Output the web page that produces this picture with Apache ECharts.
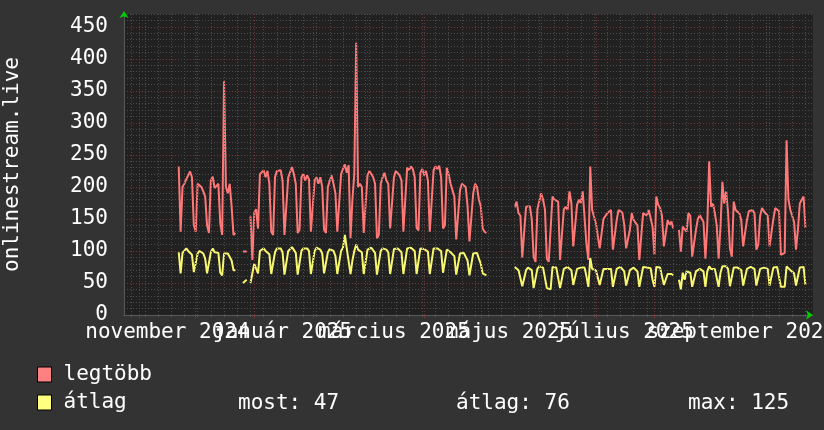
<!DOCTYPE html>
<html><head><meta charset="utf-8">
<script src="https://cdn.jsdelivr.net/npm/echarts@6/dist/echarts.min.js"></script>
<style>html,body{margin:0;padding:0;background:#333333;}#c{width:824px;height:430px;}</style>
</head><body><div id="c"></div>
<script>
// ---- time range of the graph ----
const rangeStart = '2024-10-24';
const rangeEnd = '2025-10-24';

// ---- data segments (daily values), each with its first day ----
const segStarts = ['2024-11-22', '2024-12-26', '2024-12-30', '2025-05-19', '2025-08-14'];

const maxSeg1 = [232,130,200,205,212,218,224,215,140,130,205,204,200,193,185,140,128,210,216,198,200,205,143,125,365,200,190,205,170,125,128];
const avgSeg1 = [98,65,97,100,104,100,97,94,67,64,96,100,98,96,88,65,62,98,104,98,96,97,66,62,96,98,96,96,85,70,70];

const maxSeg2 = [99,99,99];
const avgSeg2 = [50,52,55];

const maxSeg3 = [154,86,160,165,135,220,222,226,215,225,
  205,130,125,215,225,222,226,210,125,122,
  215,218,231,220,205,128,133,215,220,210,
  218,212,130,128,210,215,205,215,200,133,
  128,200,210,218,205,190,130,127,220,228,
  235,222,234,120,180,220,425,200,205,200,
  128,125,218,225,220,215,205,120,125,205,
  215,222,210,205,135,132,215,225,222,218,
  210,130,128,230,226,232,228,215,136,132,
  222,228,218,225,210,130,128,226,232,228,
  233,215,135,140,230,220,205,195,185,118,
  120,195,205,208,200,170,115,112,190,205,
  200,180,170,135,130,128];
const avgSeg3 = [50,47,80,78,65,100,102,104,100,102,
  95,64,62,98,104,102,104,98,63,62,
  100,102,106,104,97,63,65,100,104,102,
  104,100,64,62,100,105,103,102,96,65,
  62,98,103,104,100,92,64,62,100,105,
  125,104,106,64,85,100,110,102,100,98,
  64,62,102,104,105,102,97,63,62,100,
  104,105,102,98,64,63,103,105,104,104,
  98,64,62,104,106,105,106,100,64,63,
  104,106,103,105,99,64,62,104,106,104,
  106,100,66,64,102,100,98,96,92,63,
  62,96,98,97,95,85,62,62,96,98,
  97,88,80,65,64,62];

const maxSeg4 = [168,177,159,155,90,88,169,172,170,150,
  91,83,165,167,190,180,165,88,83,81,
  185,180,183,177,86,88,165,169,164,193,
  175,107,110,172,180,175,193,190,110,86,
  232,164,167,143,143,104,104,150,150,159,
  156,164,102,104,148,164,164,160,141,104,
  102,133,159,148,150,140,86,88,159,162,
  155,164,164,138,94,185,172,167,155,107,
  104,148,141,146,135];
const avgSeg4 = [75,74,70,68,45,44,70,74,72,70,
  42,42,72,76,78,74,72,42,40,40,
  75,76,74,75,42,43,72,74,75,76,
  70,47,46,72,75,74,76,74,60,44,
  89,72,70,70,68,47,46,72,74,72,
  74,72,44,44,72,74,75,72,68,46,
  46,70,72,74,72,68,44,44,75,75,
  74,75,73,55,44,75,76,74,72,47,
  46,64,64,64,62];

const maxSeg5 = [133,99,138,140,130,159,155,91,88,133,
  150,156,159,145,88,140,240,169,174,159,
  140,88,138,208,174,193,160,104,91,177,
  164,162,159,148,107,107,148,162,159,164,
  159,102,110,155,167,162,164,155,107,110,
  150,167,169,162,94,91,97,273,180,164,
  164,145,102,133,174,180,185,136];
const avgSeg5 = [55,40,66,55,68,68,66,44,44,68,
  70,72,70,68,44,68,76,72,74,72,
  70,44,66,76,75,76,72,45,44,74,
  72,74,72,70,46,46,72,74,75,74,
  72,46,48,72,75,74,75,72,46,47,
  74,76,75,72,44,42,44,76,74,70,
  72,65,46,60,74,76,75,47];

// ---- names, ticks, texts ----
const seriesNames = ['legtöbb', 'átlag'];
const yTickValues = [0, 50, 100, 150, 200, 250, 300, 350, 400, 450];
const xLabelDates = ['2024-11-16', '2025-01-16', '2025-03-16', '2025-05-16', '2025-07-16', '2025-09-16'];
const xLabelTexts = ['november 2024', 'január 2025', 'március 2025', 'május 2025', 'július 2025', 'szeptember 2025'];
const statTexts = ['most: 47', 'átlag: 76', 'max: 125'];
const axisTitle = 'onlinestream.live';

// ---- build ----
const DAY = 86400000;
const FONT = 'DejaVu Sans Mono';
const t0 = Date.parse(rangeStart), t1 = Date.parse(rangeEnd);
const maxSegs = [maxSeg1, maxSeg2, maxSeg3, maxSeg4, maxSeg5];
const avgSegs = [avgSeg1, avgSeg2, avgSeg3, avgSeg4, avgSeg5];
function build(segs) {
  const out = [];
  segs.forEach((seg, s) => {
    const st = Date.parse(segStarts[s]);
    seg.forEach((v, i) => out.push([st + i * DAY, v]));
    out.push([st + seg.length * DAY, null]);
  });
  return out;
}
const monthStarts = [];
{ const d = new Date(t0); let y = d.getUTCFullYear(), m = d.getUTCMonth() + 1;
  while (true) { const t = Date.UTC(y, m, 1); if (t > t1) break; monthStarts.push(t); m++; if (m > 11) { m = 0; y++; } } }
const mondays = [];
{ let t = t0; while (new Date(t).getUTCDay() !== 1) t += DAY; for (; t <= t1; t += 7 * DAY) mondays.push(t); }
const labelTs = xLabelDates.map(d => Date.parse(d));
const labelTsA = labelTs.filter((_, i) => i % 2 === 0);
const labelTsB = labelTs.filter((_, i) => i % 2 === 1);
const fmt = v => { const i = labelTs.indexOf(v); return i >= 0 ? xLabelTexts[i] : ''; };

const MAJOR = '#723636', MINOR = '#4c4c4c';
function gridLines(values, color) {
  return {
    type: 'line', data: [], silent: true, z: 1, xAxisIndex: 0, yAxisIndex: 0,
    markLine: {silent: true, symbol: 'none', animation: false, label: {show: false},
      lineStyle: {color: color, type: [1, 2], width: 1}, emphasis: {disabled: true},
      data: values.map(v => ({xAxis: v}))}
  };
}
const labelStyle = {color: '#ffffff', fontFamily: FONT, fontSize: 21, margin: 7,
  showMinLabel: true, showMaxLabel: true, hideOverlap: false, formatter: fmt};
const chart = echarts.init(document.getElementById('c'), null, {renderer: 'canvas'});
chart.setOption({
  backgroundColor: '#333333',
  animation: false,
  textStyle: {fontFamily: FONT},
  grid: {left: 124, top: 14, width: 689, height: 301, show: true, backgroundColor: '#212121', borderWidth: 0,
    containLabel: false, outerBoundsMode: 'none'},
  xAxis: [{
    type: 'value', min: t0, max: t1, offset: 0,
    axisLine: {show: true, lineStyle: {color: '#5a5a5a', width: 1}},
    axisTick: {show: true, customValues: monthStarts, length: 3, lineStyle: {color: '#7a3a3a'}},
    axisLabel: Object.assign({customValues: labelTsA}, labelStyle),
    splitLine: {show: false}
  }, {
    type: 'value', min: t0, max: t1, position: 'bottom', offset: 0,
    axisLine: {show: true, symbol: ['none', 'arrow'], symbolSize: [7, 7], lineStyle: {color: '#00cc00', width: 0}},
    axisTick: {show: true, customValues: mondays, length: 2, lineStyle: {color: '#555'}},
    axisLabel: Object.assign({customValues: labelTsB}, labelStyle),
    splitLine: {show: false}
  }],
  yAxis: [{
    type: 'value', min: 0, max: 470, interval: 50, offset: 0,
    axisLine: {show: true, lineStyle: {color: '#5a5a5a'}},
    axisTick: {show: false},
    axisLabel: {customValues: yTickValues, color: '#ffffff', fontFamily: FONT, fontSize: 21, margin: 16},
    splitLine: {show: true, showMaxLine: false, lineStyle: {color: MAJOR, type: [1, 2], width: 1}},
    name: axisTitle, nameLocation: 'middle', nameGap: 101, nameRotate: 90,
    nameTextStyle: {color: '#ffffff', fontFamily: FONT, fontSize: 21}
  }, {
    type: 'value', min: 0, max: 470, interval: 10, position: 'left', offset: 0,
    axisLine: {show: true, symbol: ['none', 'arrow'], symbolSize: [7, 7], symbolOffset: [0, 3], lineStyle: {color: '#00cc00', width: 0}},
    axisTick: {show: false}, axisLabel: {show: false},
    splitLine: {show: true, lineStyle: {color: ['rgba(0,0,0,0)', MINOR, MINOR, MINOR, MINOR], type: [1, 2], width: 1}}
  }],
  legend: {
    orient: 'vertical', left: 32, top: 359, icon: 'rect', itemWidth: 14, itemHeight: 15, itemGap: 7,
    selectedMode: false, data: seriesNames,
    itemStyle: {borderColor: '#000000', borderWidth: 1},
    textStyle: {color: '#ffffff', fontFamily: FONT, fontSize: 21, lineHeight: 21, padding: [0, 0, 0, 7]}
  },
  graphic: statTexts.map((t, i) => ({
    type: 'text', left: [238, 456, 688][i], top: 393,
    style: {text: t, fill: '#ffffff', font: '21px "DejaVu Sans Mono"'}
  })),
  series: [
    gridLines(mondays, MINOR),
    gridLines(monthStarts, MAJOR),
    {
      name: seriesNames[0], type: 'line', data: build(maxSegs), showSymbol: false, symbol: 'none',
      connectNulls: false, color: '#ff8080', lineStyle: {color: '#ff7878', width: 2}, z: 3
    }, {
      name: seriesNames[1], type: 'line', data: build(avgSegs), showSymbol: false, symbol: 'none',
      connectNulls: false, color: '#ffff80', lineStyle: {color: '#f8f870', width: 2}, z: 3
    }]
});
</script></body></html>
